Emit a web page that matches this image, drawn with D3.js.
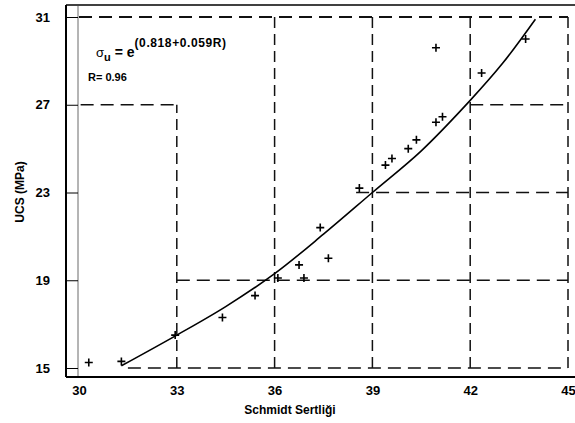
<!DOCTYPE html>
<html>
<head>
<meta charset="utf-8">
<script src="https://cdn.jsdelivr.net/npm/d3@7"></script>
<style>
  body { margin: 0; background: #fff; }
  svg { font-family: "Liberation Sans", Arial, sans-serif; font-weight: bold; }
</style>
</head>
<body>
<div id="chart"></div>
<script>
// Datos
const schmidt = [30.3, 31.3, 32.95, 34.4, 35.4, 36.1, 36.75, 36.9, 37.4, 37.65, 38.6, 39.4, 39.6, 40.1, 40.35, 40.95, 41.15, 40.95, 42.35, 43.7];
const ucs = [15.25, 15.3, 16.5, 17.3, 18.3, 19.1, 19.7, 19.1, 21.4, 20.0, 23.2, 24.25, 24.55, 25.0, 25.4, 26.2, 26.45, 29.6, 28.45, 30.0];

// Curva de ajuste
const fitX = [31.3, 33, 34.5, 36, 37.5, 39, 40.5, 42, 43, 44];
const fitY = [15.1, 16.5, 17.8, 19.3, 21.1, 23.0, 24.9, 27.2, 28.9, 30.9];

const xTicks = [30, 33, 36, 39, 42, 45];
const yTicks = [15, 19, 23, 27, 31];

// Líneas de rejilla (trozos visibles)
const hGrid = [[31, 30, 45], [27, 30.05, 33], [27, 42, 45], [23, 38.5, 45], [19, 33, 45], [15, 31.5, 45]];
const vGrid = [[33, 15, 27], [36, 15, 31], [39, 15, 31], [42, 15, 31], [45, 15, 31]];

const W = 575, H = 423;
const svg = d3.select("#chart").append("svg")
    .attr("width", W).attr("height", H);

const x = d3.scaleLinear().domain([30, 45]).range([79, 568]);
const y = d3.scaleLinear().domain([15, 31]).range([368, 17]);

const axisX = 66, axisY = 377, topY = 5;

// Rejilla discontinua
svg.append("g").selectAll("line.h")
    .data(hGrid).enter().append("line")
    .attr("x1", d => x(d[1])).attr("x2", d => x(d[2]))
    .attr("y1", d => y(d[0])).attr("y2", d => y(d[0]))
    .attr("stroke", "#111").attr("stroke-width", d => d[0] === 31 ? 2 : 1.4)
    .attr("stroke-dasharray", "13,7");

svg.append("g").selectAll("line.v")
    .data(vGrid).enter().append("line")
    .attr("x1", d => x(d[0])).attr("x2", d => x(d[0]))
    .attr("y1", d => y(d[1])).attr("y2", d => y(d[2]))
    .attr("stroke", "#111").attr("stroke-width", 1.5)
    .attr("stroke-dasharray", "11,6");

// Marco
svg.append("line").attr("x1", axisX).attr("x2", W).attr("y1", topY).attr("y2", topY)
    .attr("stroke", "#000").attr("stroke-width", 1.5);
svg.append("line").attr("x1", axisX).attr("x2", axisX).attr("y1", topY).attr("y2", axisY)
    .attr("stroke", "#000").attr("stroke-width", 2);
svg.append("line").attr("x1", 78).attr("x2", 78).attr("y1", topY).attr("y2", axisY)
    .attr("stroke", "#444").attr("stroke-width", 0.8);
svg.append("line").attr("x1", axisX).attr("x2", W).attr("y1", axisY).attr("y2", axisY)
    .attr("stroke", "#000").attr("stroke-width", 2);

// Eje Y
const yAxis = svg.append("g")
    .attr("transform", `translate(${axisX},0)`)
    .call(d3.axisLeft(y).tickValues(yTicks).tickSize(-12).tickPadding(16));
yAxis.select(".domain").remove();
yAxis.selectAll("text").style("font-size", "13px").style("font-weight", "bold").attr("fill", "#000");
yAxis.selectAll(".tick line").attr("stroke", "#000").attr("stroke-width", 1);

// Eje X
const xAxis = svg.append("g")
    .attr("transform", `translate(0,${axisY})`)
    .call(d3.axisBottom(x).tickValues(xTicks).tickSize(0).tickPadding(9));
xAxis.select(".domain").remove();
xAxis.selectAll("text").style("font-size", "13px").style("font-weight", "bold").attr("fill", "#000");

// Etiquetas de ejes
svg.append("text")
    .attr("x", 290).attr("y", 414)
    .attr("text-anchor", "middle")
    .style("font-size", "12px")
    .text("Schmidt Sertliği");

svg.append("text")
    .attr("transform", "rotate(-90)")
    .attr("x", -192).attr("y", 24)
    .attr("text-anchor", "middle")
    .style("font-size", "12px")
    .text("UCS (MPa)");

// Curva de ajuste
const line = d3.line()
    .x(d => x(d[0])).y(d => y(d[1]))
    .curve(d3.curveCatmullRom);
svg.append("path")
    .datum(fitX.map((v, i) => [v, fitY[i]]))
    .attr("d", line)
    .attr("fill", "none")
    .attr("stroke", "#000")
    .attr("stroke-width", 1.6);

// Puntos (cruces)
const pts = schmidt.map((v, i) => [v, ucs[i]]);
const s = 4;
svg.append("g").selectAll("path.pt")
    .data(pts).enter().append("path")
    .attr("d", d => {
        const px = x(d[0]), py = y(d[1]);
        return `M${px - s},${py}H${px + s}M${px},${py - s}V${py + s}`;
    })
    .attr("stroke", "#000").attr("stroke-width", 1.6).attr("fill", "none");

// Ecuación
const eq = svg.append("text").attr("x", 96).attr("y", 57);
eq.append("tspan").style("font-size", "13px").style("font-weight", "normal").text("σ");
eq.append("tspan").attr("dy", 4).style("font-size", "11px").text("u");
eq.append("tspan").attr("dy", -4).style("font-size", "14px").text(" = e");
eq.append("tspan").attr("dy", -10).style("font-size", "12px").style("letter-spacing", "0.6px").text("(0.818+0.059R)");

svg.append("text")
    .attr("x", 88).attr("y", 81)
    .style("font-size", "11px")
    .text("R= 0.96");
</script>
</body>
</html>
